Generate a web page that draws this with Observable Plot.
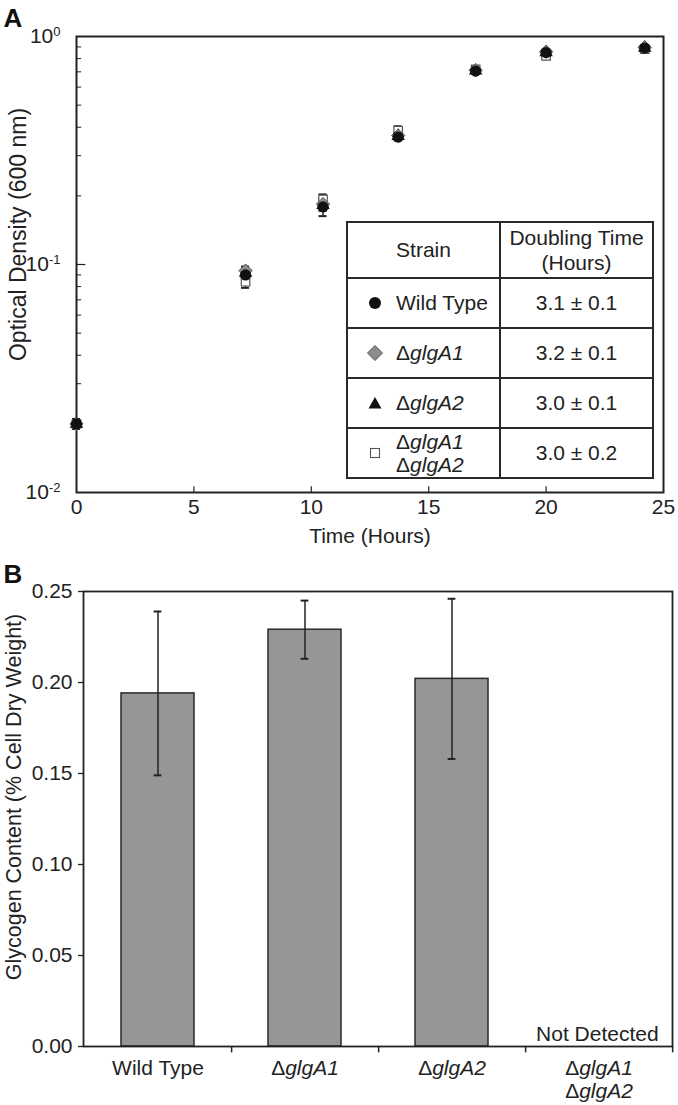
<!DOCTYPE html>
<html>
<head>
<meta charset="utf-8">
<script src="https://cdn.jsdelivr.net/npm/d3@7"></script>
<script src="https://cdn.jsdelivr.net/npm/@observablehq/plot@0.6"></script>
<style>
  body { margin: 0; background: #fff; font-family: "Liberation Sans", Arial, sans-serif; }
  #wrap { position: relative; width: 678px; height: 1105px; overflow: hidden; }
  #wrap svg { display: block; }
  #tbl { position: absolute; left: 346px; top: 221px; border-collapse: collapse; font-size: 21px; color: #222; background: #fff; }
  #tbl td { border: 2px solid #2a2a2a; padding: 0; }
  #tbl td.c2 { text-align: center; width: 151px; }
  #tbl td.c1 { width: 151px; }
  #tbl tr.h td { height: 54px; }
  #tbl tr.r td { height: 48px; }
  .lab { display: flex; align-items: center; }
  .lab svg { width: 26px; margin-left: 14px; margin-right: 8px; flex: none; }
</style>
</head>
<body>
<div id="wrap"></div>
<script>
// ---------- Panel A data ----------
const times = [0, 7.2, 10.5, 13.7, 17, 20, 24.2];
const odWildType = [0.020, 0.090, 0.179, 0.362, 0.705, 0.850, 0.890];
const sdWildType = [0.001, 0.004, 0.016, 0.012, 0.020, 0.020, 0.020];
const odGlgA1 = [0.020, 0.094, 0.184, 0.368, 0.712, 0.858, 0.896];
const sdGlgA1 = [0.001, 0.004, 0.010, 0.012, 0.020, 0.020, 0.020];
const odGlgA2 = [0.020, 0.092, 0.182, 0.366, 0.708, 0.852, 0.892];
const sdGlgA2 = [0.001, 0.004, 0.010, 0.012, 0.020, 0.020, 0.020];
const odDouble = [0.020, 0.084, 0.193, 0.386, 0.718, 0.822, 0.880];
const sdDouble = [0.001, 0.005, 0.010, 0.018, 0.020, 0.020, 0.020];
const xTickValues = [0, 5, 10, 15, 20, 25];
const yTickValues = [0.01, 0.1, 1];
const yMinorTicks = [0.02, 0.03, 0.04, 0.05, 0.06, 0.07, 0.08, 0.09, 0.2, 0.3, 0.4, 0.5, 0.6, 0.7, 0.8, 0.9];

const strainNames = ["Wild Type", "ΔglgA1", "ΔglgA2", "ΔglgA1\nΔglgA2"];
const doublingTimes = ["3.1 ± 0.1", "3.2 ± 0.1", "3.0 ± 0.1", "3.0 ± 0.2"];

// ---------- Panel B data ----------
const glycogenStrains = ["Wild Type", "ΔglgA1", "ΔglgA2", "ΔglgA1\nΔglgA2"];
const glycogenMean = [0.194, 0.229, 0.202, null];
const glycogenLow = [0.149, 0.213, 0.158, null];
const glycogenHigh = [0.239, 0.245, 0.246, null];
const glycogenTicks = [0, 0.05, 0.10, 0.15, 0.20, 0.25];

const FONT = "Liberation Sans, Arial, sans-serif";
const INK = "#222";

// build series
const series = [
  {key: "double", od: odDouble, sd: sdDouble},
  {key: "glgA2", od: odGlgA2, sd: sdGlgA2},
  {key: "glgA1", od: odGlgA1, sd: sdGlgA1},
  {key: "wt", od: odWildType, sd: sdWildType}
];
const growth = series.flatMap(s => times.map((t, i) => ({key: s.key, t, v: s.od[i], lo: s.od[i] - s.sd[i], hi: s.od[i] + s.sd[i]})));
const sel = k => growth.filter(d => d.key === k);

const wrap = document.getElementById("wrap");

// ---------- Panel A ----------
const W = 678;
const A = Plot.plot({
  width: W, height: 545,
  marginLeft: 76, marginRight: 15, marginTop: 36, marginBottom: 53,
  style: {fontFamily: FONT, fontSize: "21px", color: INK, background: "white", overflow: "visible"},
  x: {domain: [0, 25]},
  y: {type: "log", domain: [0.01, 1]},
  marks: [
    Plot.axisX({ticks: xTickValues, tickSize: 0, tickPadding: 7, label: null, tickFormat: d => String(d)}),
    Plot.axisY({ticks: yTickValues, tickSize: 0, tickPadding: 16, label: null, tickFormat: d => "10|" + Math.round(Math.log10(d))}),
    Plot.ruleX(xTickValues.slice(1, -1), {x: d => d, y1: 0.01, y2: 0.0106, stroke: INK, strokeWidth: 1.2}),
    Plot.ruleY(yMinorTicks, {y: d => d, x1: 0, x2: 0.22, stroke: INK, strokeWidth: 1}),
    Plot.ruleY([0.1], {y: d => d, x1: 0, x2: 0.4, stroke: INK, strokeWidth: 1.2}),
    Plot.frame({stroke: INK, strokeWidth: 2}),
    // error bars
    Plot.ruleX(growth, {x: "t", y1: "lo", y2: "hi", stroke: INK, strokeWidth: 1.5}),
    Plot.ruleY(growth, {y: "hi", x1: d => d.t - 0.17, x2: d => d.t + 0.17, stroke: INK, strokeWidth: 2}),
    Plot.ruleY(growth, {y: "lo", x1: d => d.t - 0.17, x2: d => d.t + 0.17, stroke: INK, strokeWidth: 2}),
    // points
    Plot.dot(sel("double"), {x: "t", y: "v", symbol: "square", r: 4.8, fill: "white", stroke: "#555", strokeWidth: 1.2}),
    Plot.dot(sel("glgA2"), {x: "t", y: "v", symbol: "triangle", r: 5, fill: "#111"}),
    Plot.dot(sel("glgA1"), {x: "t", y: "v", symbol: "diamond2", r: 6, fill: "#8c8c8c", stroke: "#555", strokeWidth: 1}),
    Plot.dot(sel("wt"), {x: "t", y: "v", symbol: "circle", r: 5.6, fill: "#111"}),
    // titles
    Plot.text(["Optical Density (600 nm)"], {frameAnchor: "left", rotate: -90, dx: -51, dy: -30, textAnchor: "middle", lineAnchor: "bottom", fontSize: 23, fill: INK}),
    Plot.text(["Time (Hours)"], {frameAnchor: "bottom", dy: 50, textAnchor: "middle", lineAnchor: "bottom", fontSize: 21, fill: INK}),
    Plot.text(["A"], {frameAnchor: "top-left", dx: -73, dy: -10, lineAnchor: "bottom", textAnchor: "start", fontSize: 26, fontWeight: "bold", fill: "#111"})
  ]
});
wrap.appendChild(A);

// superscripts on y tick labels
d3.select(A).selectAll('g[aria-label="y-axis tick label"] text').each(function() {
  const [b, e] = this.textContent.split("|");
  const t = d3.select(this);
  t.text(b);
  t.append("tspan").attr("dy", "-0.55em").attr("font-size", "0.62em").text(e);
});

// table inset (HTML)
const markerSvg = [
  '<svg viewBox="-13 -8 26 16" height="16"><circle r="6" fill="#111"/></svg>',
  '<svg viewBox="-13 -8 26 16" height="16"><path d="M0,-7.5L7.5,0L0,7.5L-7.5,0Z" fill="#8c8c8c" stroke="#555" stroke-width="1"/></svg>',
  '<svg viewBox="-13 -8 26 16" height="16"><path d="M0,-6L6.5,5.5L-6.5,5.5Z" fill="#111"/></svg>',
  '<svg viewBox="-13 -8 26 16" height="16"><rect x="-4.5" y="-4.5" width="9" height="9" fill="white" stroke="#555" stroke-width="1.1"/></svg>'
];
const fmtStrain = s => s.split("\n").map(l => l.startsWith("Δ") ? "Δ<i>" + l.slice(1) + "</i>" : l).join("<br>");
const tbl = document.createElement("table");
tbl.id = "tbl";
let html = '<tr class="h"><td class="c2">Strain</td><td class="c2" style="line-height:25px">Doubling Time<br>(Hours)</td></tr>';
strainNames.forEach((s, i) => {
  const multi = s.includes("\n");
  html += `<tr class="r"><td class="c1"><div class="lab">${markerSvg[i]}<span style="line-height:${multi ? 23 : 24}px">${fmtStrain(s)}</span></div></td><td class="c2">${doublingTimes[i]}</td></tr>`;
});
tbl.innerHTML = html;
wrap.appendChild(tbl);

// ---------- Panel B ----------
const mL = 83, mR = 6;
const band = (W - mL - mR) / glycogenStrains.length;
const glyc = glycogenStrains.map((s, i) => ({s, v: glycogenMean[i], lo: glycogenLow[i], hi: glycogenHigh[i]}));
const glycValid = glyc.filter(d => d.v != null);
const B = Plot.plot({
  width: W, height: 560,
  marginLeft: mL, marginRight: mR, marginTop: 46, marginBottom: 59,
  style: {fontFamily: FONT, fontSize: "21px", color: INK, background: "white", overflow: "visible"},
  x: {domain: glycogenStrains, padding: 0},
  y: {domain: [0, 0.25]},
  marks: [
    Plot.axisY({ticks: glycogenTicks, tickSize: 5, tickPadding: 6, label: null, tickFormat: d => d.toFixed(2), strokeWidth: 1.3}),
    Plot.axisX({tickSize: 0, tickPadding: 12, label: null, lineHeight: 1.1}),
    Plot.ruleX(glycogenStrains, {x: d => d, dx: band / 2, y1: 0, y2: -0.0035, stroke: INK, strokeWidth: 1.5}),
    Plot.barY(glycValid, {x: "s", y: "v", fill: "#959698", stroke: "#2a2a2a", strokeWidth: 1.5, insetLeft: 37, insetRight: 37}),
    Plot.frame({stroke: INK, strokeWidth: 1.8}),
    Plot.ruleX(glycValid, {x: "s", y1: "lo", y2: "hi", stroke: INK, strokeWidth: 1.5}),
    Plot.tickY(glycValid, {x: "s", y: "hi", stroke: INK, strokeWidth: 2, insetLeft: band / 2 - 4, insetRight: band / 2 - 4}),
    Plot.tickY(glycValid, {x: "s", y: "lo", stroke: INK, strokeWidth: 2, insetLeft: band / 2 - 4, insetRight: band / 2 - 4}),
    Plot.text([glycogenStrains[3]], {x: d => d, y: 0, text: () => "Not Detected", dx: band / 2 - 14, dy: -6, textAnchor: "end", lineAnchor: "bottom", fontSize: 21, fill: INK}),
    Plot.text(["Glycogen Content (% Cell Dry Weight)"], {frameAnchor: "left", rotate: -90, dx: -63, dy: -22, textAnchor: "middle", lineAnchor: "bottom", fontSize: 21.5, fill: INK}),
    Plot.text(["B"], {frameAnchor: "top-left", dx: -80, dy: -9, lineAnchor: "bottom", textAnchor: "start", fontSize: 26, fontWeight: "bold", fill: "#111"})
  ]
});
wrap.appendChild(B);

// italic gene names on x tick labels
d3.select(B).selectAll('g[aria-label="x-axis tick label"] text').each(function() {
  const spans = this.querySelectorAll("tspan");
  const targets = spans.length ? Array.from(spans) : [this];
  targets.forEach(n => {
    const s = n.textContent;
    if (s.startsWith("Δ")) {
      n.textContent = "Δ";
      d3.select(n).append("tspan").attr("font-style", "italic").text(s.slice(1));
    }
  });
});
</script>
</body>
</html>
